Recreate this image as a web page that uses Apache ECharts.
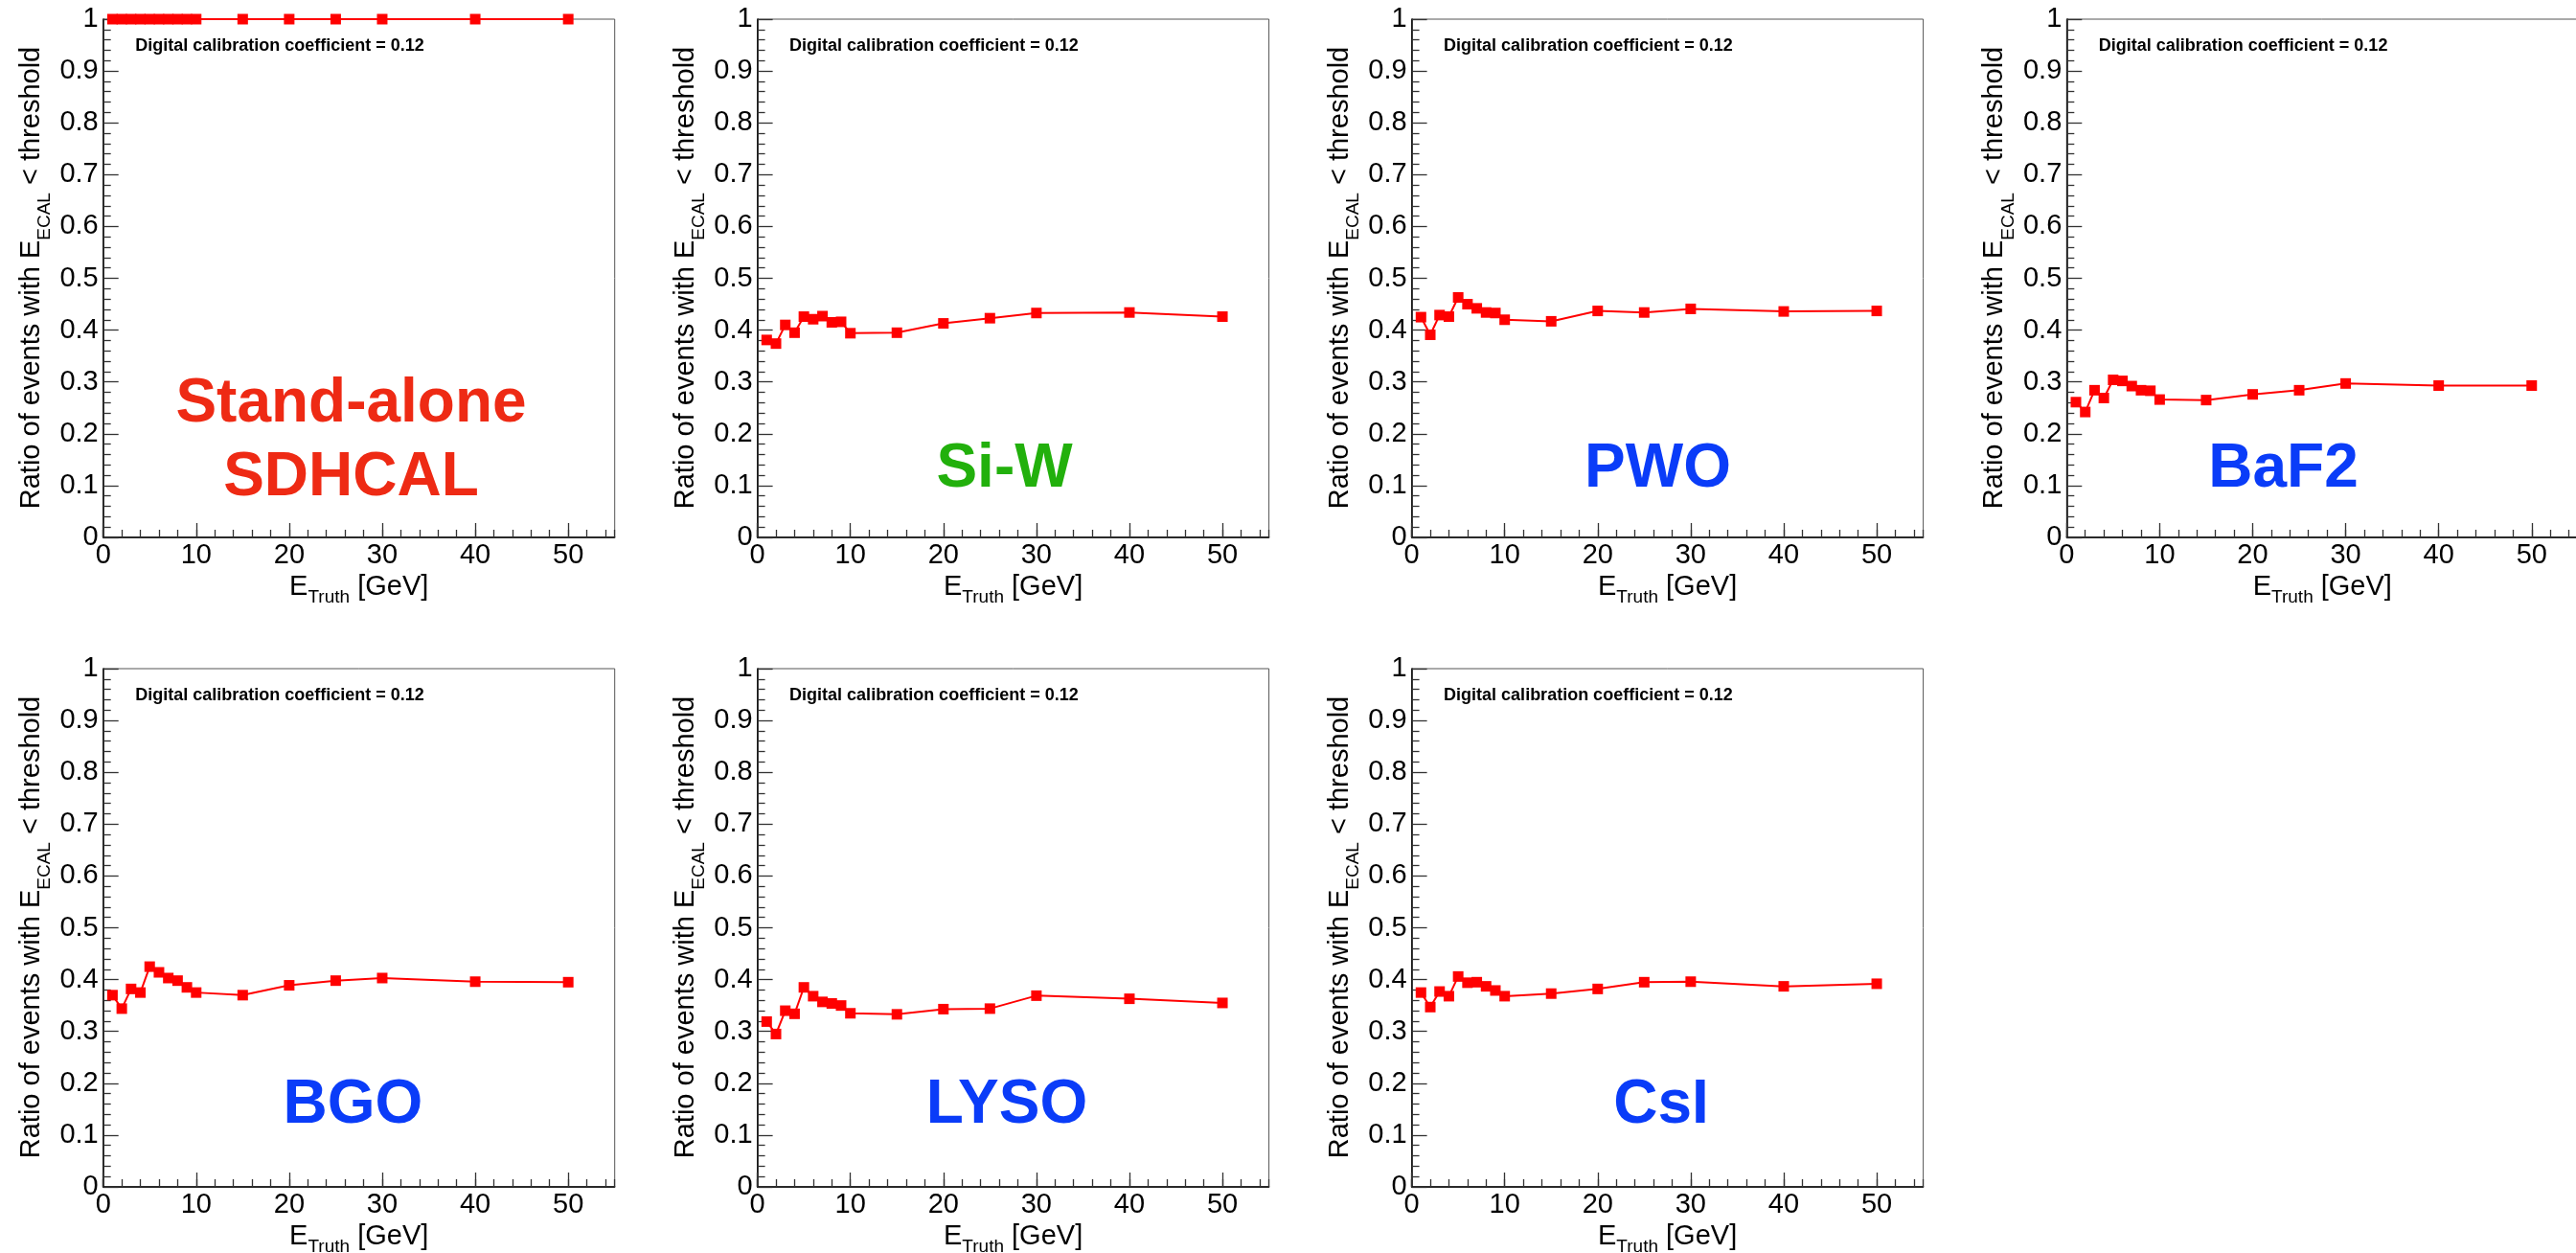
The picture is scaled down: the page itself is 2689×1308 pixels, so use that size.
<!DOCTYPE html>
<html>
<head>
<meta charset="utf-8">
<script src="https://cdn.jsdelivr.net/npm/echarts@6/dist/echarts.min.js"></script>
<style>
html,body{margin:0;padding:0;background:#fff;}
#chart{width:2689px;height:1308px;}
</style>
</head>
<body>
<div id="chart"></div>
<script>
// ---------------- data ----------------
const energies = [1, 2, 3, 4, 5, 6, 7, 8, 9, 10, 15, 20, 25, 30, 40, 50];
const sdhcal = [1, 1, 1, 1, 1, 1, 1, 1, 1, 1, 1, 1, 1, 1, 1, 1];
const siW  = [0.381, 0.374, 0.410, 0.395, 0.426, 0.421, 0.427, 0.415, 0.416, 0.394, 0.395, 0.413, 0.423, 0.433, 0.434, 0.426];
const pwo  = [0.425, 0.391, 0.429, 0.426, 0.463, 0.450, 0.442, 0.434, 0.433, 0.420, 0.417, 0.437, 0.434, 0.441, 0.436, 0.437];
const baf2 = [0.261, 0.242, 0.284, 0.269, 0.304, 0.302, 0.292, 0.284, 0.283, 0.266, 0.265, 0.276, 0.284, 0.297, 0.293, 0.293];
const bgo  = [0.370, 0.344, 0.382, 0.375, 0.425, 0.414, 0.403, 0.398, 0.385, 0.375, 0.370, 0.389, 0.398, 0.403, 0.396, 0.395];
const lyso = [0.319, 0.295, 0.340, 0.334, 0.385, 0.368, 0.357, 0.354, 0.350, 0.335, 0.333, 0.343, 0.344, 0.369, 0.363, 0.355];
const csi  = [0.375, 0.347, 0.377, 0.368, 0.406, 0.394, 0.395, 0.387, 0.379, 0.368, 0.373, 0.382, 0.395, 0.396, 0.387, 0.392];
const panelSeries = [sdhcal, siW, pwo, baf2, bgo, lyso, csi];
const panelLabels = ['Stand-alone\nSDHCAL', 'Si-W', 'PWO', 'BaF2', 'BGO', 'LYSO', 'CsI'];
const noteText = 'Digital calibration coefficient = 0.12';
const xMax = 55;

// ---------------- layout & style ----------------
const colLefts = [107.7, 790.6, 1473.6, 2157.3];
const rowTops = [20, 698];
const plotW = 534, plotH = 541;
const labelColors = ['#ee2a14', '#22b00c', '#0a3cf8', '#0a3cf8', '#0a3cf8', '#0a3cf8', '#0a3cf8'];
const labelOffsets = [[258.8, 441], [257.9, 470], [256.9, 470], [226.2, 470], [260.8, 456], [260.4, 456], [260.4, 456]];
const FONT = '"Liberation Sans", Arial, Helvetica, sans-serif';

const grids = [], xAxes = [], yAxes = [], series = [], graphics = [];

panelSeries.forEach(function (vals, i) {
  const col = i % 4, row = Math.floor(i / 4);
  const left = colLefts[col], top = rowTops[row];
  grids.push({
    left: left, top: top, width: plotW, height: plotH,
    show: true, borderColor: '#555', borderWidth: 1, backgroundColor: 'transparent',
    containLabel: false, outerBoundsMode: 'none'
  });
  // major x axis (labels + long ticks)
  xAxes.push({
    type: 'value', gridIndex: i, position: 'bottom', min: 0, max: xMax, interval: 10,
    axisLine: {show: true, onZero: false, lineStyle: {color: '#000', width: 1.5}},
    axisTick: {show: true, inside: true, length: 15, lineStyle: {color: '#333', width: 1.3}},
    minorTick: {show: false},
    axisLabel: {show: true, showMaxLabel: false, fontSize: 29, fontFamily: FONT, color: '#000', margin: 4},
    splitLine: {show: false}
  });
  // minor x axis (short ticks every 2)
  xAxes.push({
    type: 'value', gridIndex: i, position: 'bottom', min: 0, max: xMax, interval: 2,
    axisLine: {show: false, onZero: false},
    axisTick: {show: true, inside: true, length: 8, lineStyle: {color: '#333', width: 1.3}},
    axisLabel: {show: false},
    splitLine: {show: false}
  });
  yAxes.push({
    type: 'value', gridIndex: i, min: 0, max: 1, interval: 0.1,
    axisLine: {show: true, onZero: false, lineStyle: {color: '#000', width: 1.5}},
    axisTick: {show: true, inside: true, length: 16, lineStyle: {color: '#333', width: 1.3}},
    minorTick: {show: true, splitNumber: 5, length: 8, lineStyle: {color: '#333', width: 1.3}},
    axisLabel: {show: true, fontSize: 29, fontFamily: FONT, color: '#000', margin: 5},
    splitLine: {show: false}
  });
  series.push({
    type: 'line', xAxisIndex: 2 * i, yAxisIndex: i,
    data: energies.map(function (e, k) { return [e, vals[k]]; }),
    symbol: 'rect', symbolSize: 11, clip: false,
    lineStyle: {color: '#ff0000', width: 2},
    itemStyle: {color: '#ff0000'},
    animation: false
  });
  // y-axis title
  graphics.push({
    type: 'text', x: left - 75, y: top + 270, rotation: Math.PI / 2, silent: true,
    style: {
      text: '{m|Ratio of events with E}{s|ECAL}{m| < threshold}',
      align: 'center', verticalAlign: 'middle', fill: '#000',
      rich: {
        m: {fontSize: 29, fontFamily: FONT, lineHeight: 48, verticalAlign: 'middle', fill: '#000'},
        s: {fontSize: 19, fontFamily: FONT, lineHeight: 19, verticalAlign: 'bottom', fill: '#000'}
      }
    }
  });
  // x-axis title
  graphics.push({
    type: 'text', x: left + 267, y: top + 593, silent: true,
    style: {
      text: '{m|E}{s|Truth}{m| [GeV]}',
      align: 'center', verticalAlign: 'middle', fill: '#000',
      rich: {
        m: {fontSize: 29, fontFamily: FONT, lineHeight: 40, verticalAlign: 'middle', fill: '#000'},
        s: {fontSize: 19, fontFamily: FONT, lineHeight: 19, verticalAlign: 'bottom', fill: '#000'}
      }
    }
  });
  // note
  graphics.push({
    type: 'text', x: left + 33.5, y: top + 27.6, silent: true,
    style: {text: noteText, font: 'bold 18px ' + FONT, fill: '#000', align: 'left', verticalAlign: 'middle'}
  });
  // big label
  graphics.push({
    type: 'text', x: left + labelOffsets[i][0], y: top + labelOffsets[i][1], silent: true,
    style: {text: panelLabels[i], font: 'bold 64px ' + FONT, lineHeight: 77, fill: labelColors[i], align: 'center', verticalAlign: 'middle'}
  });
});

const chart = echarts.init(document.getElementById('chart'), null, {renderer: 'canvas'});
chart.setOption({
  animation: false,
  backgroundColor: '#ffffff',
  grid: grids,
  xAxis: xAxes,
  yAxis: yAxes,
  series: series,
  graphic: graphics
});
</script>
</body>
</html>
